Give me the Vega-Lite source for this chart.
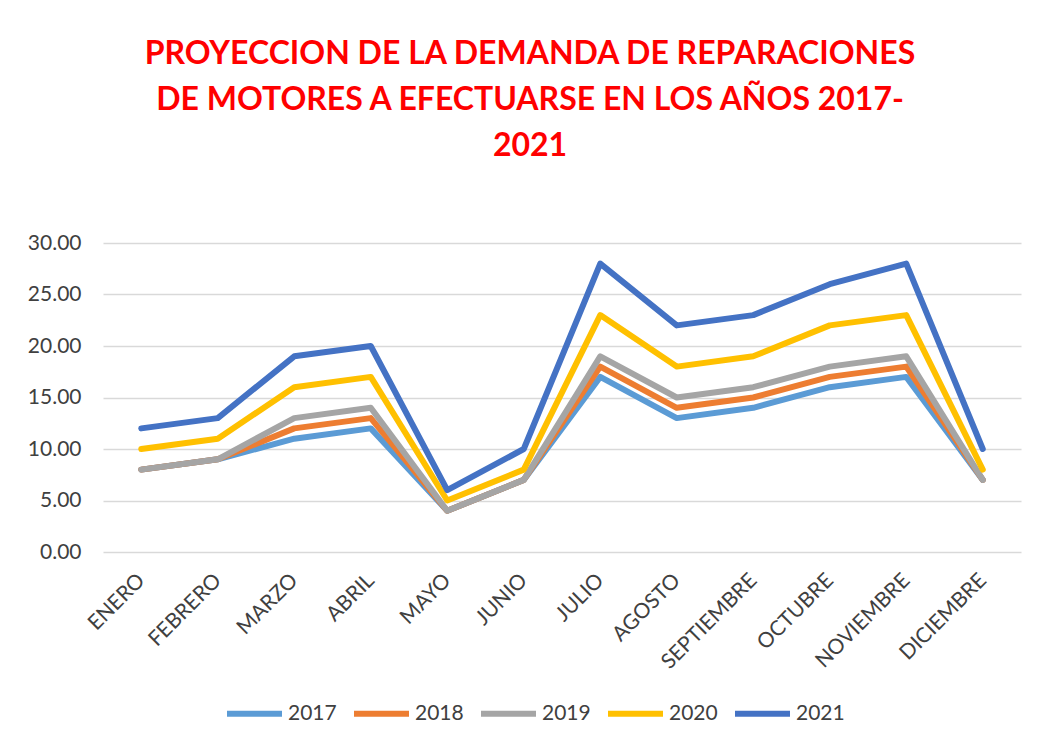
{
  "$schema": "https://vega.github.io/schema/vega-lite/v6.json",
  "autosize": "none",
  "width": 918,
  "height": 309,
  "padding": {"left": 103, "top": 243, "right": 22, "bottom": 193},
  "background": "white",
  "title": {
    "text": ["PROYECCION DE LA DEMANDA DE  REPARACIONES", "DE MOTORES A EFECTUARSE EN LOS AÑOS 2017-", "2021"],
    "font": "Lato",
    "fontSize": 32,
    "fontWeight": "bold",
    "color": "#FF0000",
    "lineHeight": 46,
    "anchor": "middle",
    "dx": -32,
    "offset": 69
  },
  "data": {
    "values": [
      {"mes": "ENERO", "anio": "2017", "valor": 8},
      {"mes": "FEBRERO", "anio": "2017", "valor": 9},
      {"mes": "MARZO", "anio": "2017", "valor": 11},
      {"mes": "ABRIL", "anio": "2017", "valor": 12},
      {"mes": "MAYO", "anio": "2017", "valor": 4},
      {"mes": "JUNIO", "anio": "2017", "valor": 7},
      {"mes": "JULIO", "anio": "2017", "valor": 17},
      {"mes": "AGOSTO", "anio": "2017", "valor": 13},
      {"mes": "SEPTIEMBRE", "anio": "2017", "valor": 14},
      {"mes": "OCTUBRE", "anio": "2017", "valor": 16},
      {"mes": "NOVIEMBRE", "anio": "2017", "valor": 17},
      {"mes": "DICIEMBRE", "anio": "2017", "valor": 7},
      {"mes": "ENERO", "anio": "2018", "valor": 8},
      {"mes": "FEBRERO", "anio": "2018", "valor": 9},
      {"mes": "MARZO", "anio": "2018", "valor": 12},
      {"mes": "ABRIL", "anio": "2018", "valor": 13},
      {"mes": "MAYO", "anio": "2018", "valor": 4},
      {"mes": "JUNIO", "anio": "2018", "valor": 7},
      {"mes": "JULIO", "anio": "2018", "valor": 18},
      {"mes": "AGOSTO", "anio": "2018", "valor": 14},
      {"mes": "SEPTIEMBRE", "anio": "2018", "valor": 15},
      {"mes": "OCTUBRE", "anio": "2018", "valor": 17},
      {"mes": "NOVIEMBRE", "anio": "2018", "valor": 18},
      {"mes": "DICIEMBRE", "anio": "2018", "valor": 7},
      {"mes": "ENERO", "anio": "2019", "valor": 8},
      {"mes": "FEBRERO", "anio": "2019", "valor": 9},
      {"mes": "MARZO", "anio": "2019", "valor": 13},
      {"mes": "ABRIL", "anio": "2019", "valor": 14},
      {"mes": "MAYO", "anio": "2019", "valor": 4},
      {"mes": "JUNIO", "anio": "2019", "valor": 7},
      {"mes": "JULIO", "anio": "2019", "valor": 19},
      {"mes": "AGOSTO", "anio": "2019", "valor": 15},
      {"mes": "SEPTIEMBRE", "anio": "2019", "valor": 16},
      {"mes": "OCTUBRE", "anio": "2019", "valor": 18},
      {"mes": "NOVIEMBRE", "anio": "2019", "valor": 19},
      {"mes": "DICIEMBRE", "anio": "2019", "valor": 7},
      {"mes": "ENERO", "anio": "2020", "valor": 10},
      {"mes": "FEBRERO", "anio": "2020", "valor": 11},
      {"mes": "MARZO", "anio": "2020", "valor": 16},
      {"mes": "ABRIL", "anio": "2020", "valor": 17},
      {"mes": "MAYO", "anio": "2020", "valor": 5},
      {"mes": "JUNIO", "anio": "2020", "valor": 8},
      {"mes": "JULIO", "anio": "2020", "valor": 23},
      {"mes": "AGOSTO", "anio": "2020", "valor": 18},
      {"mes": "SEPTIEMBRE", "anio": "2020", "valor": 19},
      {"mes": "OCTUBRE", "anio": "2020", "valor": 22},
      {"mes": "NOVIEMBRE", "anio": "2020", "valor": 23},
      {"mes": "DICIEMBRE", "anio": "2020", "valor": 8},
      {"mes": "ENERO", "anio": "2021", "valor": 12},
      {"mes": "FEBRERO", "anio": "2021", "valor": 13},
      {"mes": "MARZO", "anio": "2021", "valor": 19},
      {"mes": "ABRIL", "anio": "2021", "valor": 20},
      {"mes": "MAYO", "anio": "2021", "valor": 6},
      {"mes": "JUNIO", "anio": "2021", "valor": 10},
      {"mes": "JULIO", "anio": "2021", "valor": 28},
      {"mes": "AGOSTO", "anio": "2021", "valor": 22},
      {"mes": "SEPTIEMBRE", "anio": "2021", "valor": 23},
      {"mes": "OCTUBRE", "anio": "2021", "valor": 26},
      {"mes": "NOVIEMBRE", "anio": "2021", "valor": 28},
      {"mes": "DICIEMBRE", "anio": "2021", "valor": 10}
    ]
  },
  "mark": {"type": "line", "strokeWidth": 6, "strokeCap": "round", "strokeJoin": "round"},
  "encoding": {
    "x": {
      "field": "mes",
      "type": "ordinal",
      "sort": ["ENERO", "FEBRERO", "MARZO", "ABRIL", "MAYO", "JUNIO", "JULIO", "AGOSTO", "SEPTIEMBRE", "OCTUBRE", "NOVIEMBRE", "DICIEMBRE"],
      "scale": {"type": "point", "padding": 0.5},
      "axis": {
        "title": null,
        "labelAngle": -45,
        "labelAlign": "right",
        "labelBaseline": "middle",
        "labelPadding": 25,
        "labelFont": "Lato",
        "labelFontSize": 21,
        "labelColor": "#404040",
        "domain": false,
        "ticks": false,
        "grid": false
      }
    },
    "y": {
      "field": "valor",
      "type": "quantitative",
      "scale": {"domain": [0, 30], "nice": false},
      "axis": {
        "title": null,
        "values": [0, 5, 10, 15, 20, 25, 30],
        "format": ".2f",
        "labelFont": "Lato",
        "labelFontSize": 21,
        "labelColor": "#404040",
        "labelPadding": 22,
        "domain": false,
        "ticks": false,
        "grid": true,
        "gridColor": "#d9d9d9",
        "gridWidth": 1.5
      }
    },
    "color": {
      "field": "anio",
      "type": "nominal",
      "scale": {
        "domain": ["2017", "2018", "2019", "2020", "2021"],
        "range": ["#5B9BD5", "#ED7D31", "#A5A5A5", "#FFC000", "#4472C4"]
      },
      "legend": {
        "title": null,
        "orient": "none",
        "direction": "horizontal",
        "legendX": 121,
        "legendY": 440,
        "padding": 0,
        "symbolType": "stroke",
        "symbolSize": 3025,
        "symbolStrokeWidth": 6,
        "labelFont": "Lato",
        "labelFontSize": 21,
        "labelColor": "#404040",
        "labelOffset": 3,
        "columnPadding": 5
      }
    }
  },
  "config": {
    "view": {"stroke": null}
  }
}
